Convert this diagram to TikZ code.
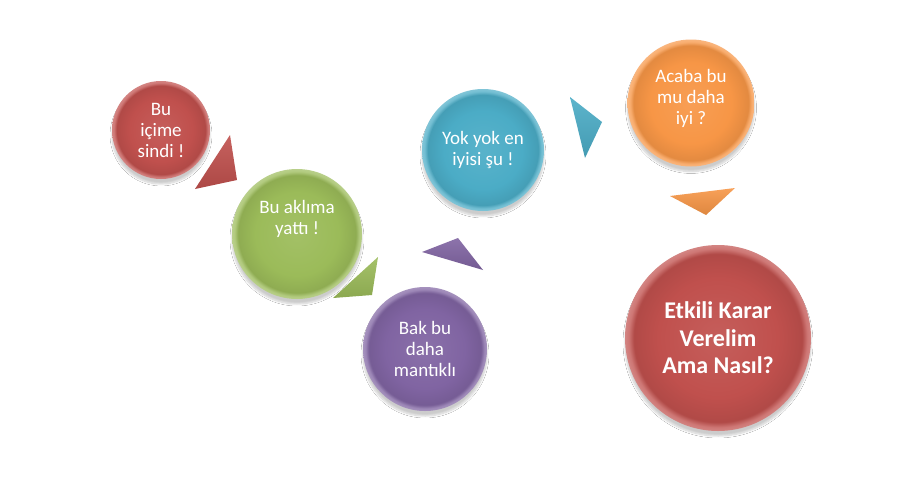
\documentclass[tikz,border=0pt]{standalone}
\usepackage{fontspec}
\setmainfont{Carlito}
\usetikzlibrary{shadows.blur}
\definecolor{ored}{HTML}{C0504D}
\definecolor{ogreen}{HTML}{9BBB59}
\definecolor{opurple}{HTML}{8064A2}
\definecolor{oblue}{HTML}{4BACC6}
\definecolor{oorange}{HTML}{F79646}
\colorlet{bcol}{ored}
\pgfdeclareradialshading[bcol]{bubbleshade}{\pgfpoint{0bp}{0bp}}{%
  color(0bp)=(bcol!92!white); color(16bp)=(bcol); color(22.6bp)=(bcol!92!black);
  color(24bp)=(bcol!78!white); color(25bp)=(bcol!70!white);
  color(50bp)=(bcol!70!white)}
\tikzset{
  bubble/.style={circle, inner sep=0pt, minimum size=#1, draw=none, shading=bubbleshade,
    blur shadow={shadow xshift=0pt, shadow yshift=-5pt, shadow opacity=20, shadow blur steps=8}},
  bcolor/.code={\colorlet{bcol}{#1}},
  txt/.style={text=white, align=center, inner sep=0pt, font=\fontsize{19}{21}\selectfont},
  bigtxt/.style={text=white, align=center, inner sep=0pt, font=\bfseries\fontsize{24}{27.5}\selectfont},
  tri/.style={draw=none, top color=#1!90!white, bottom color=#1!90!black}
}
\begin{document}
\begin{tikzpicture}[x=1pt,y=-1pt]
\useasboundingbox[fill=white] (0,0) rectangle (915,482);
% triangles
\path[tri=ored] (230,135) -- (195,189) -- (237,180) -- cycle;
\path[tri=ogreen] (378,257) -- (333,298) -- (372,295) -- cycle;
\path[tri=opurple] (422,252) -- (458,238) -- (483,270) -- cycle;
\path[tri=oblue] (570,97) -- (602,122) -- (585,158) -- cycle;
\path[tri=oorange] (670,196) -- (735,188) -- (706,215) -- cycle;
% circles
\node[bcolor=ored, bubble=98pt] (c1) at (161,130) {};
\node[txt] (t1) at (c1) {Bu\\içime\\sindi !};
\node[bcolor=ogreen, bubble=130pt] (c2) at (297,234) {};
\node[txt, yshift=15pt] (t2) at (c2) {Bu aklıma\\yattı !};
\node[bcolor=opurple, bubble=124pt] (c3) at (425,349) {};
\node[txt] (t3) at (c3) {Bak bu\\daha\\mantıklı};
\node[bcolor=oblue, bubble=122pt] (c4) at (483,150) {};
\node[txt] (t4) at (c4) {Yok yok en\\iyisi şu !};
\node[bcolor=oorange, bubble=127pt] (c5) at (691,103) {};
\node[txt, yshift=5pt] (t5) at (c5) {Acaba bu\\mu daha\\iyi ?};
\node[bcolor=ored, bubble=186pt] (c6) at (718,338) {};
\node[bigtxt] (t6) at (c6) {Etkili Karar\\Verelim\\Ama Nasıl?};
\end{tikzpicture}
\end{document}
